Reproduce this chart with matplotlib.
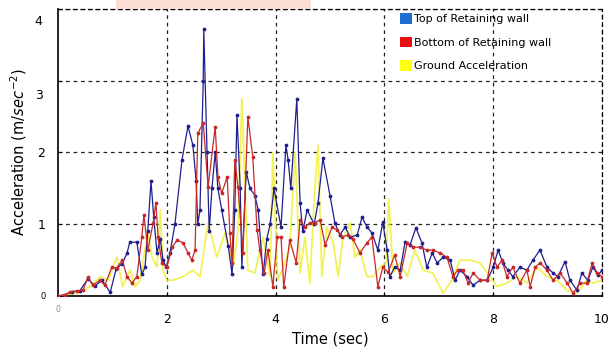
import matplotlib
matplotlib.use("Agg")
import matplotlib.pyplot as plt
from matplotlib.patches import Patch, Rectangle
import matplotlib.transforms as mtransforms

# Top of retaining wall
top_t = [0.00, 0.13, 0.26, 0.40, 0.55, 0.68, 0.81, 0.96, 1.07, 1.18, 1.27, 1.32, 1.45, 1.54,
         1.60, 1.65, 1.71, 1.76, 1.82, 1.88, 1.93, 1.99, 2.06, 2.15, 2.28, 2.39, 2.48, 2.54,
         2.57, 2.61, 2.67, 2.68, 2.74, 2.78, 2.83, 2.89, 2.94, 3.01, 3.13, 3.20, 3.25, 3.29,
         3.35, 3.38, 3.46, 3.53, 3.62, 3.68, 3.77, 3.84, 3.90, 3.97, 4.10, 4.19, 4.23, 4.28,
         4.39, 4.45, 4.50, 4.58, 4.71, 4.78, 4.87, 5.00, 5.09, 5.18, 5.28, 5.37, 5.50, 5.59,
         5.68, 5.77, 5.88, 5.97, 6.05, 6.10, 6.19, 6.29, 6.38, 6.47, 6.58, 6.69, 6.78, 6.88,
         6.97, 7.08, 7.21, 7.30, 7.39, 7.52, 7.63, 7.76, 7.89, 8.00, 8.09, 8.18, 8.27, 8.36,
         8.49, 8.62, 8.73, 8.86, 8.99, 9.10, 9.19, 9.32, 9.41, 9.54, 9.63, 9.74, 9.83, 9.93, 10.0]
top_acc = [0.00, 0.02, 0.06, 0.07, 0.24, 0.14, 0.22, 0.05, 0.38, 0.45, 0.60, 0.75, 0.75, 0.30,
           0.40, 0.90, 1.60, 1.10, 0.60, 0.80, 0.50, 0.40, 0.60, 1.00, 1.90, 2.37, 2.10, 1.60,
           1.00, 1.20, 3.00, 3.72, 2.00, 0.90, 1.50, 2.00, 1.50, 1.20, 0.70, 0.30, 1.20, 2.52,
           1.50, 0.40, 1.73, 1.50, 1.40, 1.20, 0.30, 0.80, 1.00, 1.50, 0.96, 2.10, 1.90, 1.50,
           2.75, 1.30, 0.90, 1.20, 1.00, 1.30, 1.92, 1.40, 1.02, 0.85, 0.96, 0.82, 0.85, 1.10,
           0.96, 0.88, 0.64, 1.03, 0.64, 0.27, 0.40, 0.36, 0.75, 0.71, 0.95, 0.74, 0.40, 0.60,
           0.46, 0.54, 0.50, 0.22, 0.36, 0.27, 0.15, 0.22, 0.22, 0.40, 0.64, 0.46, 0.36, 0.27,
           0.40, 0.36, 0.50, 0.64, 0.40, 0.32, 0.27, 0.48, 0.22, 0.08, 0.32, 0.22, 0.40, 0.29, 0.36]

# Bottom of retaining wall
bot_t = [0.00, 0.13, 0.22, 0.35, 0.46, 0.55, 0.64, 0.77, 0.86, 0.99, 1.08, 1.18, 1.27, 1.36,
         1.45, 1.54, 1.58, 1.65, 1.75, 1.80, 1.84, 1.91, 2.00, 2.10, 2.19, 2.30, 2.39, 2.46,
         2.52, 2.57, 2.67, 2.76, 2.89, 2.94, 3.01, 3.11, 3.16, 3.20, 3.25, 3.31, 3.40, 3.49,
         3.58, 3.66, 3.71, 3.79, 3.86, 3.95, 4.03, 4.10, 4.15, 4.26, 4.38, 4.45, 4.54, 4.63,
         4.72, 4.82, 4.91, 5.04, 5.13, 5.22, 5.33, 5.42, 5.55, 5.68, 5.77, 5.88, 5.97, 6.07,
         6.19, 6.29, 6.42, 6.53, 6.65, 6.78, 6.89, 7.02, 7.15, 7.26, 7.35, 7.44, 7.54, 7.63,
         7.76, 7.89, 7.98, 8.07, 8.16, 8.25, 8.36, 8.49, 8.62, 8.68, 8.77, 8.86, 8.99, 9.10,
         9.23, 9.36, 9.47, 9.60, 9.72, 9.82, 9.91, 10.0]
bot_acc = [0.00, 0.01, 0.06, 0.07, 0.08, 0.26, 0.15, 0.22, 0.15, 0.40, 0.39, 0.50, 0.27, 0.18,
           0.27, 0.82, 1.13, 0.64, 1.02, 1.30, 0.82, 0.46, 0.40, 0.68, 0.78, 0.74, 0.60, 0.50,
           0.64, 2.27, 2.41, 1.52, 2.36, 1.66, 1.43, 1.66, 0.88, 0.46, 1.90, 1.52, 0.60, 2.50,
           1.94, 0.92, 0.64, 0.32, 0.64, 0.13, 0.82, 0.82, 0.12, 0.78, 0.46, 1.06, 0.96, 1.02,
           1.02, 1.06, 0.71, 0.96, 0.92, 0.82, 0.85, 0.80, 0.60, 0.74, 0.82, 0.13, 0.40, 0.33,
           0.57, 0.27, 0.74, 0.68, 0.68, 0.64, 0.64, 0.60, 0.54, 0.27, 0.36, 0.36, 0.18, 0.32,
           0.22, 0.22, 0.60, 0.40, 0.50, 0.27, 0.40, 0.18, 0.36, 0.13, 0.40, 0.46, 0.36, 0.22,
           0.32, 0.18, 0.04, 0.18, 0.18, 0.46, 0.32, 0.27]

# Ground acceleration
gnd_t = [0.00, 0.17, 0.37, 0.59, 0.77, 0.92, 1.08, 1.19, 1.32, 1.42, 1.51, 1.65, 1.73, 1.82,
         1.88, 1.93, 2.00, 2.11, 2.30, 2.48, 2.61, 2.76, 2.92, 3.07, 3.22, 3.31, 3.38, 3.49,
         3.62, 3.77, 3.90, 3.95, 4.04, 4.14, 4.26, 4.36, 4.45, 4.54, 4.63, 4.72, 4.78, 4.85,
         4.94, 5.06, 5.15, 5.24, 5.37, 5.46, 5.55, 5.68, 5.79, 5.92, 6.03, 6.08, 6.16, 6.29,
         6.42, 6.56, 6.71, 6.89, 7.08, 7.24, 7.39, 7.57, 7.76, 7.94, 8.07, 8.25, 8.44, 8.62,
         8.81, 8.99, 9.17, 9.36, 9.54, 9.72, 9.83, 10.0]
gnd_acc = [0.00, 0.02, 0.04, 0.13, 0.27, 0.22, 0.54, 0.13, 0.36, 0.13, 0.22, 0.88, 0.54, 0.40,
           1.20, 0.36, 0.22, 0.22, 0.27, 0.36, 0.27, 1.02, 0.54, 0.88, 0.40, 0.92, 2.75, 0.36,
           0.32, 0.82, 0.27, 2.00, 0.22, 0.40, 0.68, 2.00, 0.32, 0.82, 0.18, 1.48, 2.10, 0.27,
           0.96, 0.74, 0.27, 0.82, 1.02, 0.54, 0.64, 0.27, 0.27, 0.40, 0.46, 1.35, 0.32, 0.46,
           0.27, 0.64, 0.36, 0.32, 0.04, 0.22, 0.50, 0.50, 0.46, 0.27, 0.13, 0.18, 0.27, 0.18,
           0.40, 0.27, 0.22, 0.08, 0.04, 0.22, 0.18, 0.22]

series_labels = ["Top of Retaining wall", "Bottom of Retaining wall", "Ground Acceleration"]
x_ticks = [2, 4, 6, 8, 10]
y_ticks = [0, 1, 2, 3, 4]

fig = plt.figure(figsize=(6.09, 3.53), dpi=100)
ax = fig.add_axes([0.0952, 0.1615, 0.8933, 0.813])

# faint pink band along the top edge
fig.patches.append(Rectangle((0.19, 0.975), 0.32, 0.03, transform=fig.transFigure,
                             facecolor="#f9d6cc", edgecolor="none", alpha=0.8, zorder=0))

ax.plot(top_t, top_acc, color="#1f1f90", lw=0.9, marker="o", ms=1.7, zorder=3)
ax.plot(gnd_t, gnd_acc, color="#f0f03a", lw=1.3, alpha=0.85, zorder=2)
ax.plot(bot_t, bot_acc, color="#c82828", lw=0.9, marker="o", ms=1.7, zorder=4)

ax.set_xlim(0, 10)
ax.set_ylim(0, 4)

ax.set_xticks(x_ticks)
ax.set_xticklabels([str(v) for v in x_ticks], fontsize=9)
ax.set_yticks(y_ticks)
ax.set_yticklabels(["0", "1", "2", "", ""], fontsize=9)
ax.get_yticklabels()[0].set_fontsize(6)
ax.tick_params(axis="both", length=3, direction="in", width=0.8)
ax.tick_params(axis="x", pad=12)
ax.tick_params(axis="y", pad=9)

# upper y labels sit a little below their grid lines
trans = mtransforms.blended_transform_factory(ax.transAxes, ax.transData)
for val, shown in [(2.8, "3"), (3.83, "4")]:
    ax.text(-0.028, val, shown, transform=trans, ha="right", va="center", fontsize=9)
ax.text(0.0, -0.03, "0", transform=ax.transAxes, ha="center", va="top", fontsize=5.5,
        color="#888888")

ax.grid(True, color="#222222", linestyle=(0, (3, 3)), linewidth=0.9)
ax.spines["top"].set_linestyle((0, (3, 3)))
ax.spines["right"].set_linestyle((0, (3, 3)))
ax.spines["top"].set_linewidth(0.9)
ax.spines["right"].set_linewidth(0.9)
ax.spines["left"].set_linewidth(1.2)
ax.spines["bottom"].set_linewidth(1.2)

ax.set_xlabel("Time (sec)", fontsize=10.5, labelpad=4)
ax.set_ylabel("Acceleration (m/$sec^{-2}$)", fontsize=10.5, labelpad=6)

handles = [Patch(facecolor="#1f6fd0", edgecolor="none"),
           Patch(facecolor="#e81010", edgecolor="none"),
           Patch(facecolor="#ffff10", edgecolor="none")]
ax.legend(handles, series_labels, loc="upper left", bbox_to_anchor=(0.61, 1.02),
          frameon=False, fontsize=8, handlelength=1.1, handleheight=1.1,
          handletextpad=0.2, labelspacing=1.1)

fig.savefig("out.png", dpi=100)
